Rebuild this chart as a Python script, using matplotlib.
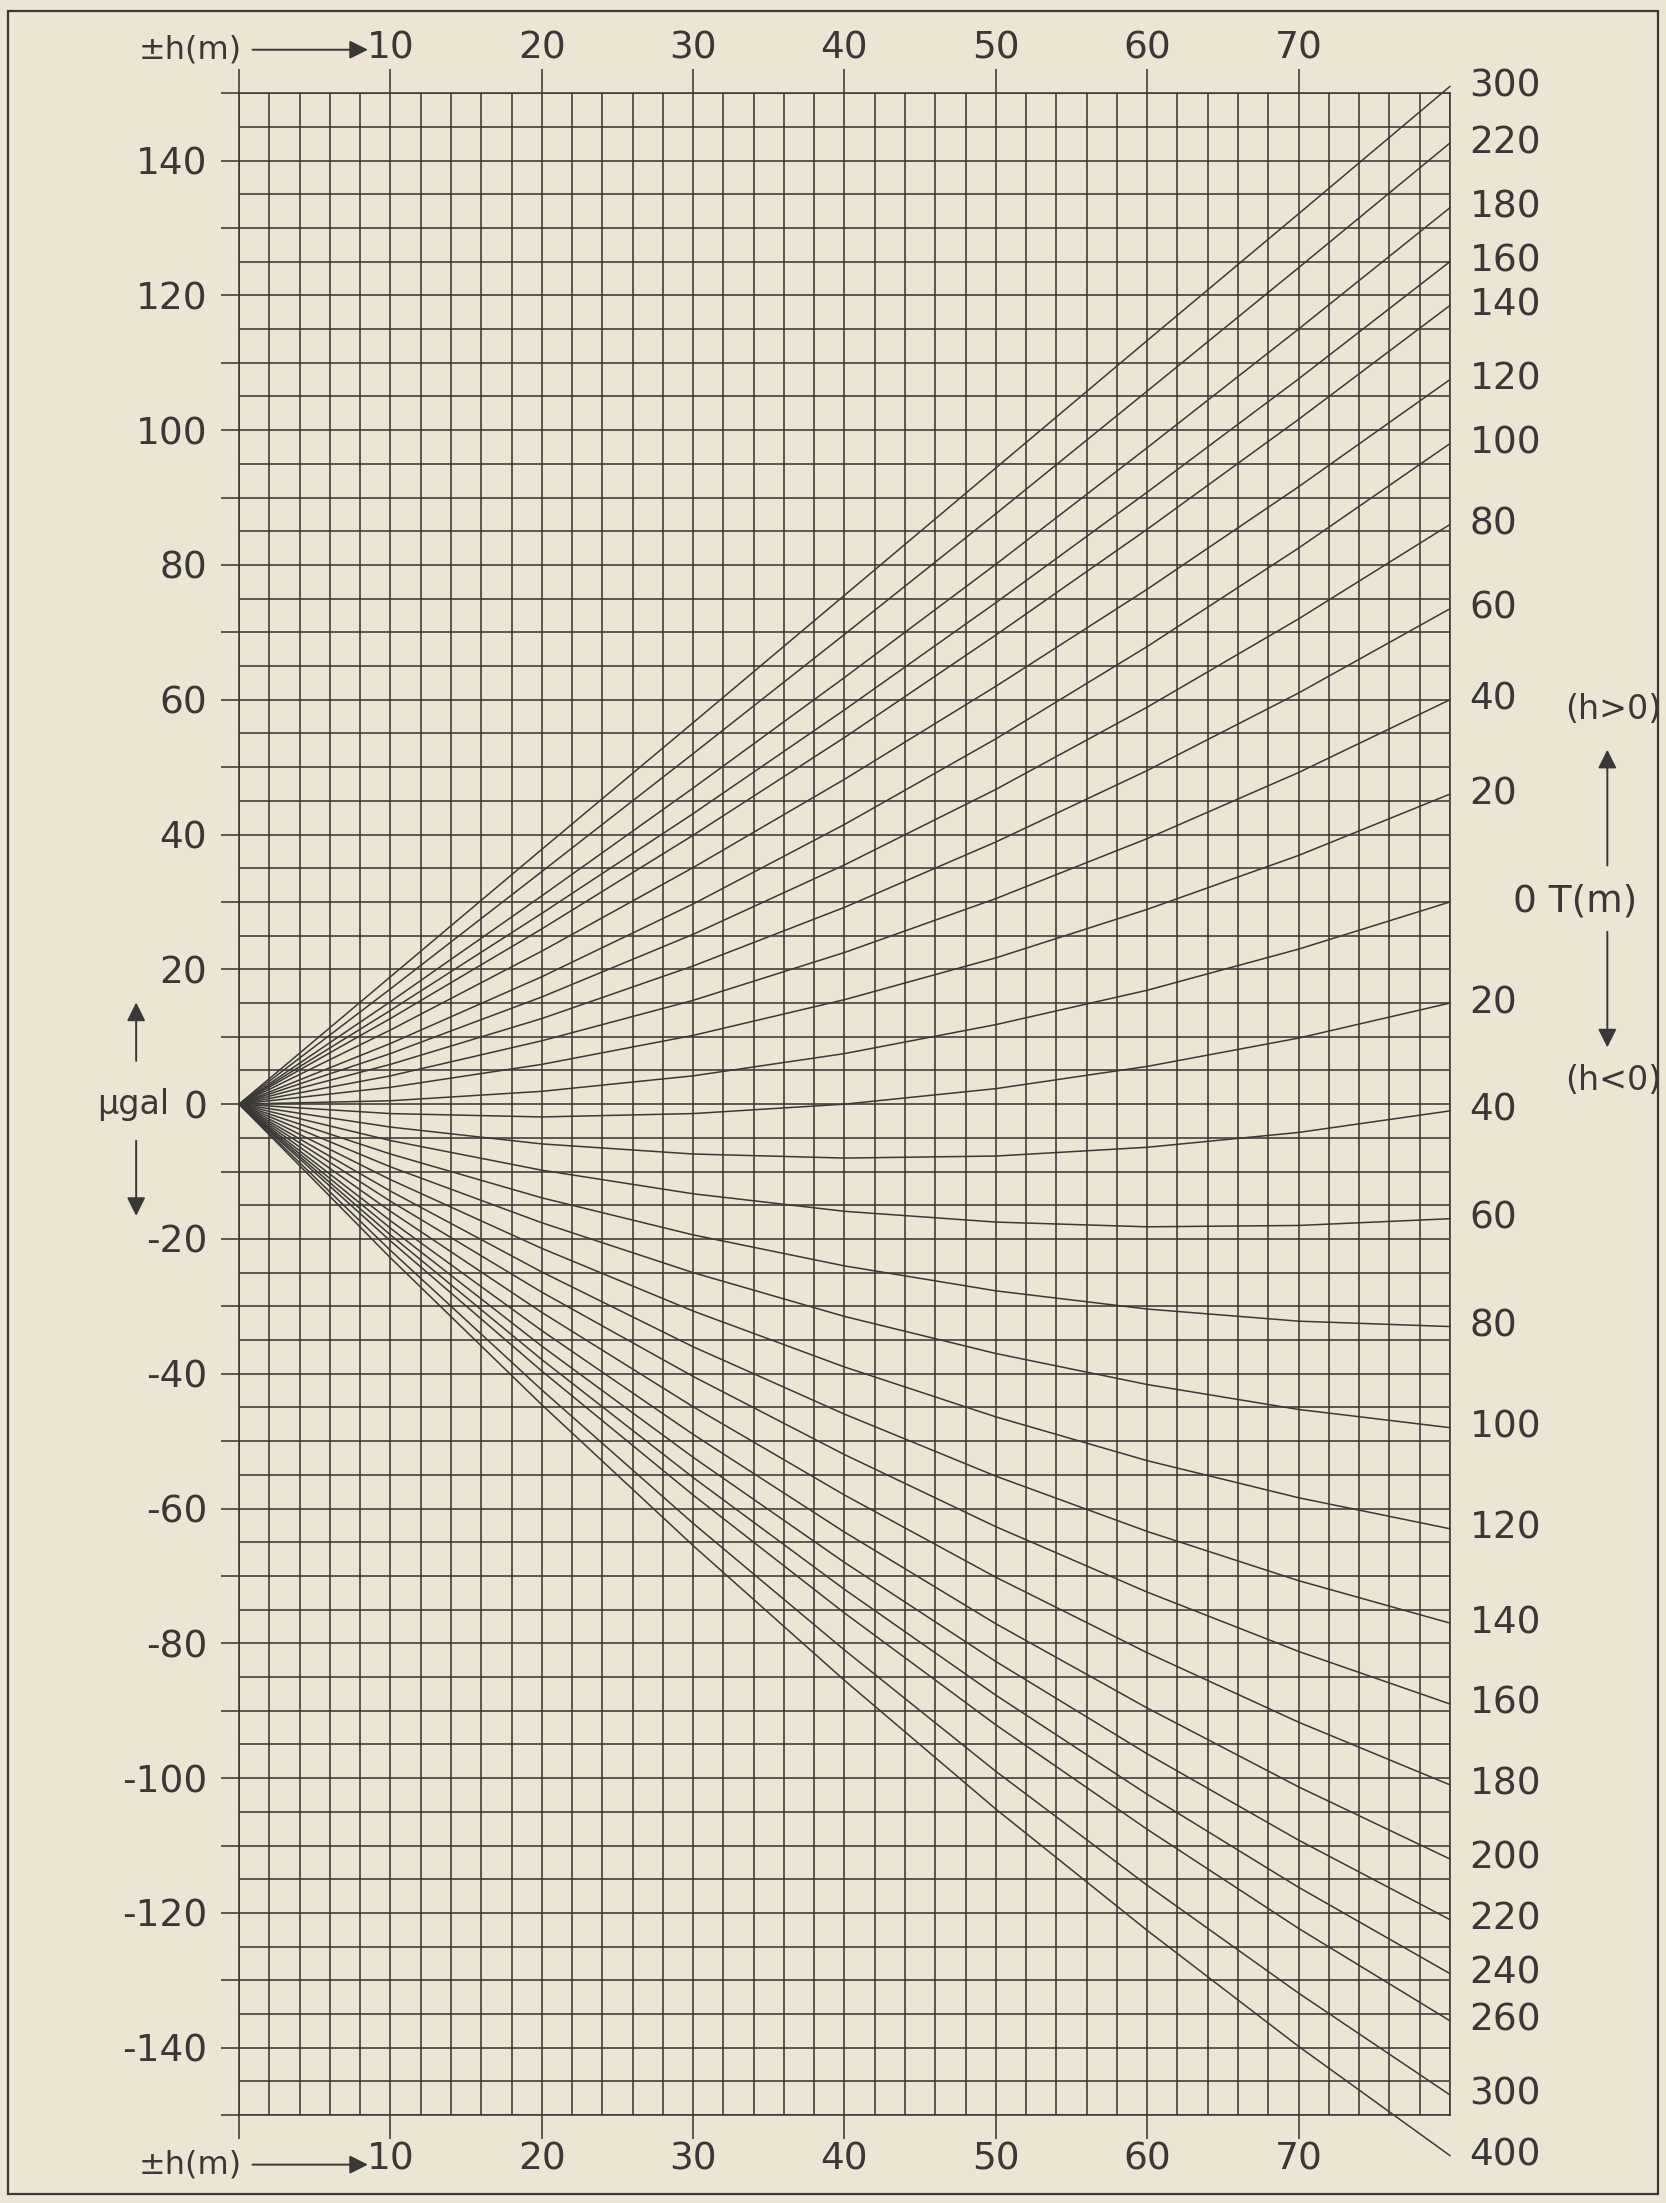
import matplotlib.pyplot as plt
from matplotlib.patches import Rectangle
from matplotlib.transforms import blended_transform_factory

# ============ DATA ============

H_M = [0, 10, 20, 30, 40, 50, 60, 70, 80]          # +-h (m)

# T (m) curves for h > 0 (upper fan), values in microgal at H_M
T_UP = [300, 220, 180, 160, 140, 120, 100, 80, 60, 40, 20]
G_UP = [
    [0, 18.9, 37.8, 56.6, 75.5, 94.4, 113.3, 132.1, 151.0],
    [0, 17.1, 34.5, 52.0, 69.7, 87.6, 105.8, 124.1, 142.6],
    [0, 15.2, 30.9, 46.9, 63.3, 80.1, 97.4, 115.0, 133.0],
    [0, 13.9, 28.3, 43.1, 58.5, 74.4, 90.8, 107.6, 125.0],
    [0, 12.7, 26.0, 39.9, 54.4, 69.6, 85.3, 101.6, 118.5],
    [0, 11.0, 22.7, 35.1, 48.2, 62.0, 76.4, 91.6, 107.5],
    [0, 9.0, 18.9, 29.7, 41.5, 54.2, 67.9, 82.5, 98.0],
    [0, 7.5, 15.9, 25.2, 35.5, 46.7, 58.9, 72.0, 86.0],
    [0, 5.9, 12.7, 20.5, 29.2, 38.9, 49.5, 61.0, 73.5],
    [0, 4.2, 9.4, 15.4, 22.5, 30.5, 39.4, 49.2, 60.0],
    [0, 2.5, 5.9, 10.2, 15.5, 21.7, 28.9, 36.9, 46.0],
]

# T = 0 curve (shared)
G_T0 = [0, 0.5, 1.9, 4.2, 7.5, 11.8, 16.9, 23.0, 30.0]

# T (m) curves for h < 0 (lower fan)
T_DOWN = [20, 40, 60, 80, 100, 120, 140, 160, 180, 200, 220, 240, 260, 300, 400]
G_DOWN = [
    [0, -1.4, -1.9, -1.4, 0.0, 2.3, 5.6, 9.8, 15.0],
    [0, -3.4, -5.9, -7.4, -8.0, -7.7, -6.4, -4.2, -1.0],
    [0, -5.4, -9.8, -13.3, -15.9, -17.5, -18.2, -18.0, -17.0],
    [0, -7.4, -13.9, -19.4, -24.0, -27.7, -30.4, -32.2, -33.0],
    [0, -9.3, -17.6, -25.0, -31.5, -37.0, -41.6, -45.3, -48.0],
    [0, -11.2, -21.4, -30.7, -39.0, -46.4, -52.9, -58.4, -63.0],
    [0, -12.9, -24.9, -36.0, -46.0, -55.2, -63.4, -70.7, -77.0],
    [0, -14.4, -27.9, -40.4, -52.0, -62.7, -72.4, -81.2, -89.0],
    [0, -15.9, -30.9, -44.9, -58.0, -70.2, -81.4, -91.7, -101.0],
    [0, -17.3, -33.6, -49.0, -63.5, -77.1, -89.6, -101.3, -112.0],
    [0, -18.4, -35.9, -52.4, -68.0, -82.7, -96.4, -109.2, -121.0],
    [0, -19.4, -37.9, -55.4, -72.0, -87.7, -102.4, -116.2, -129.0],
    [0, -20.3, -39.6, -58.0, -75.5, -92.1, -107.6, -122.3, -136.0],
    [0, -21.7, -42.4, -62.2, -81.0, -99.0, -115.9, -131.9, -147.0],
    [0, -22.8, -44.6, -65.5, -85.5, -104.6, -122.6, -139.8, -156.0],
]

X_TICKS = [0, 10, 20, 30, 40, 50, 60, 70]
X_LABELS = ["", "10", "20", "30", "40", "50", "60", "70"]
Y_TICKS = list(range(-150, 151, 10))

# ============ STYLE ============

BG = "#ece5d3"
INK = "#3a3836"
FS = 27

plt.rcParams["font.family"] = ["DejaVu Sans"]

fig = plt.figure(figsize=(16.66, 22.03), dpi=100, facecolor=BG)
ax = fig.add_axes([0.1435, 0.0399, 0.7268, 0.9178])
ax.set_facecolor(BG)
ax.set_xlim(0, 80)
ax.set_ylim(-150, 150)

# graph paper grid
ax.set_xticks(range(0, 81, 2), minor=True)
ax.set_yticks(range(-150, 151, 5), minor=True)
ax.grid(which="both", color=INK, lw=1.15)
ax.set_axisbelow(True)
for s in ax.spines.values():
    s.set_color(INK)
    s.set_linewidth(1.15)

# major ticks stick out of the grid
ax.set_xticks(X_TICKS)
ax.set_xticklabels(X_LABELS)
ylabels = []
for v in Y_TICKS:
    if v % 20 == 0 and abs(v) < 150:
        ylabels.append(str(v))
    else:
        ylabels.append("")
ax.set_yticks(Y_TICKS)
ax.set_yticklabels(ylabels)
ax.tick_params(axis="x", which="major", top=True, bottom=True, labeltop=True,
               labelbottom=True, length=17, width=1.15, color=INK,
               labelsize=FS, labelcolor=INK, pad=2)
ax.tick_params(axis="y", which="major", left=True, right=False, length=13,
               width=1.15, color=INK, labelsize=FS, labelcolor=INK, pad=10)
ax.tick_params(which="minor", length=0)

# curves
for T, g in zip(T_UP, G_UP):
    ax.plot(H_M, g, color=INK, lw=1.1, clip_on=False)
    ax.text(81.3, g[-1], str(T), ha="left", va="center", fontsize=FS,
            color=INK, clip_on=False)

ax.plot(H_M, G_T0, color=INK, lw=1.1, clip_on=False)
ax.text(84.2, G_T0[-1], "0 T(m)", ha="left", va="center", fontsize=FS,
        color=INK, clip_on=False)

for T, g in zip(T_DOWN, G_DOWN):
    ax.plot(H_M, g, color=INK, lw=1.1, clip_on=False)
    ax.text(81.3, g[-1], str(T), ha="left", va="center", fontsize=FS,
            color=INK, clip_on=False)

# (h>0) / (h<0) note on the right
ax.text(90.8, 58.5, "(h>0)", ha="center", va="center", fontsize=24,
        color=INK, clip_on=False)
ax.text(90.8, 3.5, "(h<0)", ha="center", va="center", fontsize=24,
        color=INK, clip_on=False)
arrow = dict(arrowstyle="-|>", color=INK, lw=1.4, mutation_scale=28)
ax.annotate("", xy=(90.4, 53), xytext=(90.4, 35), arrowprops=arrow,
            annotation_clip=False)
ax.annotate("", xy=(90.4, 8), xytext=(90.4, 26), arrowprops=arrow,
            annotation_clip=False)

# µgal with arrows on the left
ax.text(-4.6, 0, "µgal", ha="right", va="center", fontsize=24, color=INK,
        clip_on=False)
ax.annotate("", xy=(-6.8, 15.5), xytext=(-6.8, 6), arrowprops=arrow,
            annotation_clip=False)
ax.annotate("", xy=(-6.8, -17), xytext=(-6.8, -5), arrowprops=arrow,
            annotation_clip=False)

# ±h(m) ----> labels top and bottom
tr = blended_transform_factory(ax.transData, ax.transAxes)
for yy in [1.0215, -0.0245]:
    ax.text(0.2, yy, "±h(m)", transform=tr, ha="right", va="center",
            fontsize=23, color=INK, clip_on=False)
    ax.annotate("", xy=(8.7, yy), xytext=(0.7, yy), xycoords=tr,
                textcoords=tr, arrowprops=arrow, annotation_clip=False)

# outer frame
fig.patches.append(Rectangle((0.005, 0.004), 0.99, 0.991, transform=fig.transFigure,
                             fill=False, ec=INK, lw=1.6))

fig.savefig("out.png", dpi=100, facecolor=BG)
